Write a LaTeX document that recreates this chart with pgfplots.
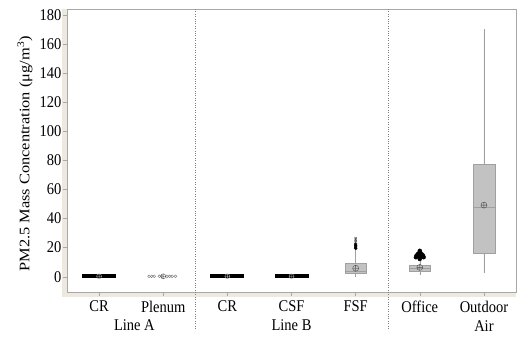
\documentclass[border=0pt]{standalone}
\usepackage{fontspec}
\setmainfont{Liberation Serif}
\usepackage{graphicx}
\usepackage{pgfplots}
\pgfplotsset{compat=1.18}
\usepgfplotslibrary{statistics}
\definecolor{boxfill}{HTML}{C2C2C2}
\definecolor{boxedge}{HTML}{A0A0A0}
\definecolor{frameband}{HTML}{EEE9DF}
\definecolor{framec}{HTML}{A8A8A8}
\definecolor{meanc}{HTML}{505050}
\newcommand{\vs}[1]{\scalebox{1}[1.13]{#1}}
\begin{document}
\fontsize{14.5}{17}\selectfont
\begin{tikzpicture}
\begin{axis}[
  set layers,
  scale only axis, width=449pt, height=283pt,
  at={(0,0)}, anchor=south west,
  xmin=-0.5, xmax=6.5, ymin=-10.5, ymax=184,
  xtick={0,1,2,3,4,5,6},
  xticklabels={\vs{CR},\vs{Plenum},\vs{CR},\vs{CSF},\vs{FSF},\vs{Office},\vs{Outdoor}\\\vs{Air}},
  xticklabel style={align=center, font=\fontsize{14.5}{19}\selectfont},
  ytick={0,20,40,60,80,100,120,140,160,180},
  yticklabel={\vs{\pgfmathprintnumber{\tick}}},
  yticklabel style={font=\fontsize{14.5}{17}\selectfont, inner sep=1.5pt},
  /pgf/number format/assume math mode=true,
  tick pos=left, tick align=outside, major tick length=4pt,
  tick style={framec, thin},
  axis line style={framec, thin},
  every axis y label/.style={at={(axis description cs:-0.0935,0.488)}, rotate=90, anchor=center, font=\fontsize{14.5}{17}\selectfont},
  ylabel={\scalebox{1.13}[1]{PM2.5 Mass Concentration (μg/m\textsuperscript{3})}},
  clip=false,
  boxplot/draw direction=y,
]
% frame band
\begin{pgfonlayer}{axis background}
\fill[frameband] ([xshift=-5pt,yshift=-5pt]rel axis cs:0,0) rectangle (rel axis cs:1,0);
\fill[frameband] ([xshift=-5pt,yshift=-5pt]rel axis cs:0,0) rectangle (rel axis cs:0,1);
\end{pgfonlayer}
% separators
\draw[black!50, dotted] (axis cs:1.5,184) -- (axis cs:1.5,-10.5);
\draw[black!50, dotted] (axis cs:1.5,-10.5) -- ([yshift=-38pt]axis cs:1.5,-10.5);
\draw[black!50, dotted] (axis cs:4.5,184) -- (axis cs:4.5,-10.5);
\draw[black!50, dotted] (axis cs:4.5,-10.5) -- ([yshift=-38pt]axis cs:4.5,-10.5);
% group labels
\node[anchor=base, yshift=-38pt] at (axis cs:0.55,-10.5) {\vs{Line A}};
\node[anchor=base, yshift=-38pt] at (axis cs:3,-10.5) {\vs{Line B}};

% CR (Line A), CR (Line B), CSF: compressed boxes at zero
\addplot[black, line width=4pt] coordinates {(-0.265,0.3) (0.265,0.3)};
\addplot[black, line width=4pt] coordinates {(1.735,0.3) (2.265,0.3)};
\addplot[black, line width=4pt] coordinates {(2.735,0.3) (3.265,0.3)};
\addplot[only marks, mark=oplus, mark size=2.5pt, gray!70] coordinates {(0,0.3) (2,0.3) (3,0.3)};

% Plenum
\addplot[only marks, mark=o, mark size=1.4pt, black!55] coordinates {(0.78,0.3) (0.82,0.3) (0.86,0.3) (0.94,0.3) (0.98,0.3) (1.06,0.3) (1.1,0.3) (1.14,0.3) (1.19,0.3)};
\addplot[only marks, mark=oplus, mark size=2.5pt, meanc] coordinates {(1,0.3)};

% FSF
\addplot[draw=boxedge, fill=boxfill, boxplot prepared={draw position=4, lower whisker=0, lower quartile=2.3, median=3.7, upper quartile=9.2, upper whisker=18.5, box extend=0.34, whisker extend=0}] coordinates {};
\addplot[only marks, mark=*, mark size=1.5pt, black] coordinates {(4,19.5) (4,20.5) (4,21.5) (4,22.5)};
\addplot[only marks, mark=x, mark size=1.5pt, black!70] coordinates {(4,23.5) (4,24.5) (4,25.5) (4,26.5)};
\addplot[only marks, mark=oplus, mark size=3pt, meanc] coordinates {(4,5.8)};

% Office
\addplot[draw=boxedge, fill=boxfill, boxplot prepared={draw position=5, lower whisker=1.2, lower quartile=4.1, median=5.9, upper quartile=7.6, upper whisker=10.5, box extend=0.34, whisker extend=0}] coordinates {};
\addplot[only marks, mark=*, mark size=2pt, black] coordinates {(5,17.8) (5,16.8) (4.975,15.8) (5.025,15.8) (4.95,14.6) (5,14.6) (5.05,14.6) (4.94,13.4) (5,13.2) (5.06,13.4) (5,12.2)};
\addplot[only marks, mark=oplus, mark size=3pt, meanc] coordinates {(5,6.4)};

% Outdoor Air
\addplot[draw=boxedge, fill=boxfill, boxplot prepared={draw position=6, lower whisker=2.7, lower quartile=16.1, median=47.7, upper quartile=77.6, upper whisker=170, box extend=0.34, whisker extend=0}] coordinates {};
\addplot[only marks, mark=oplus, mark size=3pt, meanc] coordinates {(6,49.2)};
\end{axis}
\pgfresetboundingbox
\useasboundingbox (-67pt,-49pt) rectangle (459pt,292pt);
\end{tikzpicture}
\end{document}
